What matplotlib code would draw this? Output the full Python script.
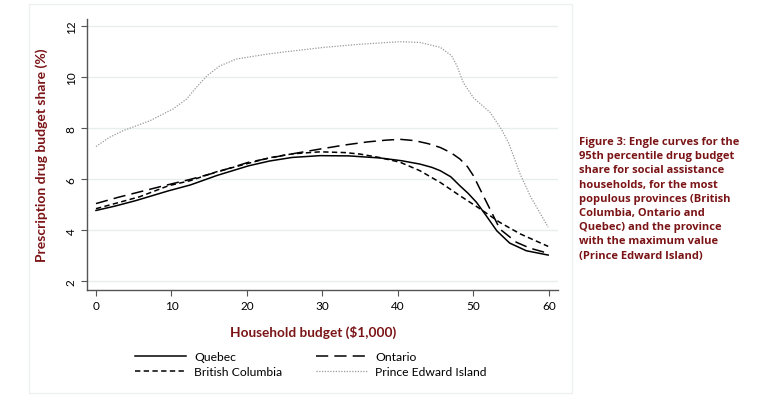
import matplotlib
matplotlib.use("Agg")
import matplotlib.pyplot as plt
from matplotlib.patches import Rectangle

quebec_x = [0, 2.5, 5.2, 9.6, 12.5, 16, 20.2, 23, 26, 29.7, 33.5, 37.6, 40.5, 42.9, 44.5, 45.6, 47, 48.2, 49.3, 50.4, 51.7, 53.1, 54.8, 57, 59.9]
quebec_y = [4.78, 4.95, 5.16, 5.55, 5.78, 6.15, 6.53, 6.72, 6.86, 6.93, 6.92, 6.84, 6.73, 6.6, 6.47, 6.34, 6.1, 5.75, 5.45, 5.1, 4.57, 3.98, 3.5, 3.2, 3.03]

ontario_x = [0, 3, 5.8, 9, 12.5, 16, 20.2, 25, 29.7, 33, 36, 38.5, 40.3, 42.2, 44, 45.6, 47, 48.2, 49.2, 50.0, 51.3, 52.4, 53.5, 55.7, 57.5, 59.9]
ontario_y = [5.05, 5.3, 5.51, 5.75, 6.0, 6.28, 6.67, 6.95, 7.19, 7.35, 7.47, 7.54, 7.57, 7.52, 7.4, 7.25, 7.05, 6.8, 6.5, 6.14, 5.36, 4.71, 4.05, 3.53, 3.3, 3.1]

bc_x = [0, 2.5, 5.8, 9.6, 12.5, 16, 20.2, 23, 26, 29.7, 33, 35, 37.5, 40.3, 42.9, 45.6, 48.2, 50.9, 53.5, 56.2, 59.9]
bc_y = [4.85, 5.05, 5.32, 5.75, 5.95, 6.3, 6.63, 6.85, 7.0, 7.08, 7.05, 6.99, 6.86, 6.67, 6.34, 5.88, 5.36, 4.84, 4.31, 3.86, 3.37]

pei_x = [0, 1.8, 3.6, 7.15, 10.2, 12.0, 13.3, 14.7, 16.4, 18.6, 22.6, 25, 30.3, 35, 40.3, 42.9, 45.6, 47.1, 47.8, 48.65, 50.0, 52.2, 53.7, 54.7, 56.2, 57.5, 59.9]
pei_y = [7.29, 7.65, 7.91, 8.3, 8.76, 9.15, 9.61, 10.06, 10.45, 10.72, 10.91, 11.0, 11.18, 11.3, 11.4, 11.37, 11.18, 10.85, 10.46, 9.8, 9.2, 8.63, 7.97, 7.4, 6.2, 5.36, 4.12]

x_ticks = [0, 10, 20, 30, 40, 50, 60]
y_ticks = [2, 4, 6, 8, 10, 12]

caption = ("Figure 3: Engle curves for the\n95th percentile drug budget\nshare for social assistance\n"
           "households, for the most\npopulous provinces (British\nColumbia, Ontario and\n"
           "Quebec) and the province\nwith the maximum value\n(Prince Edward Island)")

red = "#7b1416"
plt.rcParams['font.family'] = ['Lato', 'DejaVu Sans']

fig = plt.figure(figsize=(7.63, 4.02), dpi=100)
fig.patches.append(Rectangle((29/763, 1-394/402), (572-29)/763, (394-5)/402,
                             transform=fig.transFigure, fill=False, edgecolor="#eef0f0", lw=1.0))
ax = fig.add_axes([87/763, 1-291/402, (558-87)/763, (291-20)/402])

ax.plot(quebec_x, quebec_y, color="black", lw=1.1, ls="-", label="Quebec")
ax.plot(bc_x, bc_y, color="black", lw=1.1, ls=(0, (3.5, 2.2)), label="British Columbia")
ax.plot(ontario_x, ontario_y, color="black", lw=1.1, ls=(0, (8, 4)), label="Ontario")
ax.plot(pei_x, pei_y, color="#999999", lw=0.9, ls=(0, (1, 1.2)), label="Prince Edward Island")

ax.set_xlim(-1.19, 61.2)
ax.set_ylim(1.66, 12.29)
ax.set_xticks(x_ticks)
ax.set_yticks(y_ticks)
ax.grid(axis="y", color="#e6eeee", lw=1)
ax.set_axisbelow(True)
for s in ["top", "right"]:
    ax.spines[s].set_visible(False)
for s in ["left", "bottom"]:
    ax.spines[s].set_color("#555555")
    ax.spines[s].set_linewidth(1.0)
ax.tick_params(axis="both", colors="#555555", labelcolor="black", labelsize=8.5, length=4)
for lab in ax.get_yticklabels():
    lab.set_rotation(90)
    lab.set_va("center")

ax.set_xlabel("Household budget ($1,000)", color=red, fontsize=9.8, fontweight="bold")
ax.xaxis.set_label_coords((313.5-87)/471, -(332-291)/271, transform=ax.transAxes)
ax.xaxis.label.set_va("center")
ax.set_ylabel("Prescription drug budget share (%)", color=red, fontsize=10, fontweight="bold", labelpad=13)

handles, labels = ax.get_legend_handles_labels()
leg = fig.legend(handles, labels, ncol=2,
                 loc="upper left", bbox_to_anchor=(124/763, 1-341/402), frameon=False,
                 fontsize=8.7, handlelength=4.25, columnspacing=2.8, labelspacing=0.35, handletextpad=0.65)

fig.text(579/763, 1-137/402, caption, color=red, fontsize=8.0, fontweight="bold",
         family=["Open Sans", "DejaVu Sans"], va="top", ha="left", linespacing=1.4)

fig.savefig("out.png", dpi=100)
